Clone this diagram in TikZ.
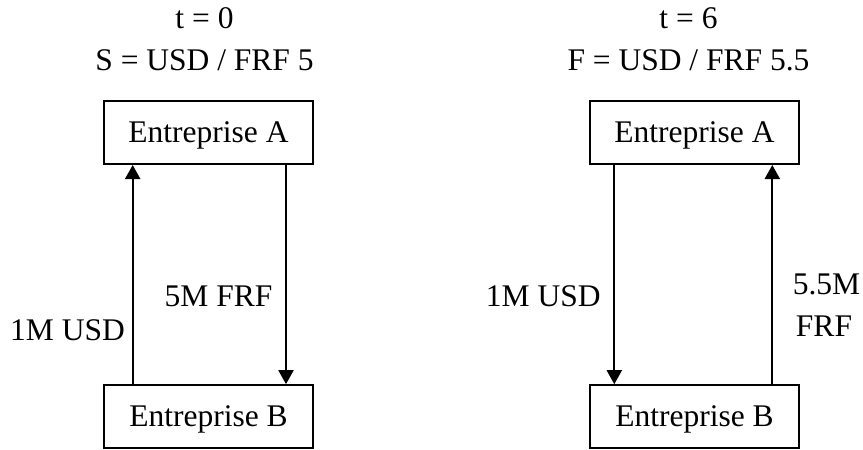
\documentclass[tikz,border=0pt]{standalone}
\usepackage{fontspec}
\setmainfont{Liberation Serif}
\usetikzlibrary{arrows.meta}
\begin{document}
\begin{tikzpicture}[x=1pt,y=-1pt,
  every node/.style={font=\fontsize{31.5}{38}\selectfont, inner sep=0pt},
  firm/.style={draw, line width=2pt, minimum width=209pt, minimum height=63pt, text height=20.4pt, text depth=0pt},
  lbl/.style={anchor=base},
  arr/.style={line width=2pt, -{Triangle[width=15pt,length=14pt]}}]
\useasboundingbox (0,0) rectangle (863,450);
% left panel
\node[lbl] (t0) at (204.5,28.3) {t = 0};
\node[lbl] (s0) at (204.5,70.7) {S = USD / FRF 5};
\node[firm] (A1) at (208.5,132.5) {Entreprise A};
\node[firm] (B1) at (208.5,416.7) {Entreprise B};
\draw[arr] ([xshift=-75.8pt]B1.north) -- ([xshift=-75.8pt]A1.south);
\draw[arr] ([xshift=77.5pt]A1.south) -- ([xshift=77.5pt]B1.north);
\node[lbl] (l1) at (67.5,340) {1M USD};
\node[lbl] (l2) at (218.5,306.7) {5M FRF};
% right panel
\node[lbl] (t6) at (688.5,28.3) {t = 6};
\node[lbl] (f6) at (688.5,70.7) {F = USD / FRF 5.5};
\node[firm] (A2) at (694.5,132.5) {Entreprise A};
\node[firm] (B2) at (694.5,416.7) {Entreprise B};
\draw[arr] ([xshift=-80.2pt]A2.north |- A2.south) -- ([xshift=-80.2pt]B2.north);
\draw[arr] ([xshift=77.8pt]B2.north) -- ([xshift=77.8pt]A2.south);
\node[lbl] (r1) at (543.3,306.7) {1M USD};
\node[lbl] (r2) at (826.5,294) {5.5M};
\node[lbl] (r3) at (824,336.7) {FRF};
\end{tikzpicture}
\end{document}
